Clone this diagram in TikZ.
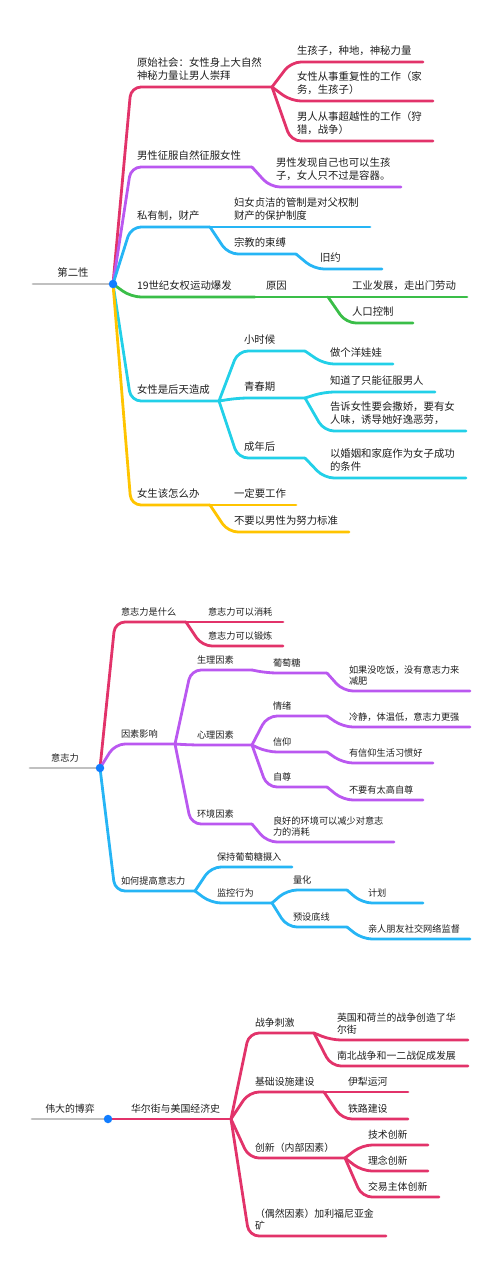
\documentclass[tikz,border=0pt]{standalone}
\usepackage{fontspec}
\setmainfont{Noto Sans CJK SC}
\usepackage{tikz}

\definecolor{cR}{RGB}{226,51,106}
\definecolor{cP}{RGB}{186,88,240}
\definecolor{cB}{RGB}{38,181,245}
\definecolor{cG}{RGB}{58,190,72}
\definecolor{cC}{RGB}{34,208,232}
\definecolor{cY}{RGB}{255,196,0}
\definecolor{cGray}{RGB}{192,192,192}
\definecolor{cDot}{RGB}{18,125,255}
\definecolor{cTxt}{RGB}{30,30,30}

\newcommand\mapA{\fontsize{10.4}{13}\selectfont}
\newcommand\mapB{\fontsize{9.2}{11}\selectfont}
\newcommand\mapC{\fontsize{9.9}{12}\selectfont}

\begin{document}
\begin{tikzpicture}[
  x=1pt, y=-1pt,
  tp/.style={anchor=south west, inner xsep=6pt, inner ysep=3.4pt,
    outer sep=0pt, align=left, text width=#1, text=cTxt,
    execute at end node=\strut},
  rt/.style={anchor=south, inner xsep=0pt, inner ysep=3.4pt,
    outer sep=0pt, minimum width=#1, text=cTxt,
    execute at end node=\strut},
  br/.style={draw=#1, line width=2.8pt, rounded corners=10pt,
    line cap=round, line join=round},
  dot/.style={circle, fill=cDot, inner sep=0pt, minimum size=8.5pt}
]
  \useasboundingbox (0,0) rectangle (500,1269);

  \begin{scope}[font=\mapA]
  \node[rt=80pt] (r1) at (73,284) {第二性};
  \node[tp=129] (a1) at (131,87) {原始社会：女性身上大自然\\神秘力量让男人崇拜};
  \node[tp=120] (a11) at (291,62) {生孩子，种地，神秘力量};
  \node[tp=130] (a12) at (291,101) {女性从事重复性的工作（家\\务，生孩子）};
  \node[tp=130] (a13) at (291,141) {男人从事超越性的工作（狩\\猎，战争）};
  \node[tp=109] (b1) at (131,167) {男性征服自然征服女性};
  \node[tp=119] (b11) at (270,187) {男性发现自己也可以生孩\\子，女人只不过是容器。};
  \node[tp=67] (c1) at (131,227) {私有制，财产};
  \node[tp=130] (c11) at (228,227) {妇女贞洁的管制是对父权制\\财产的保护制度};
  \node[tp=56] (c12) at (228,254) {宗教的束缚};
  \node[tp=56] (c121) at (314,269) {旧约};
  \node[tp=112] (d1) at (131,297) {19世纪女权运动爆发};
  \node[tp=56] (d11) at (260,297) {原因};
  \node[tp=109] (d111) at (346,297) {工业发展，走出门劳动};
  \node[tp=55] (d112) at (346,323) {人口控制};
  \node[tp=76] (e1) at (131,401) {女性是后天造成};
  \node[tp=55] (e11) at (238,351) {小时候};
  \node[tp=57] (e111) at (324,364) {做个洋娃娃};
  \node[tp=55] (e12) at (238,398) {青春期};
  \node[tp=99] (e121) at (324,392) {知道了只能征服男人};
  \node[tp=130] (e122) at (324,431) {告诉女性要会撒娇，要有女\\人味，诱导她好逸恶劳，};
  \node[tp=55] (e13) at (238,458) {成年后};
  \node[tp=130] (e131) at (324,478) {以婚姻和家庭作为女子成功\\的条件};
  \node[tp=67] (f1) at (131,505) {女生该怎么办};
  \node[tp=56] (f11) at (228,505) {一定要工作};
  \node[tp=109] (f12) at (228,532) {不要以男性为努力标准};
  \end{scope}

  \draw[br=cGray] (r1.south west) -- (r1.south east);
  \draw[br=cR] (r1.south east) -- (a1.south west) -- (a1.south east);
  \draw[br=cR] (a1.south east) -- (a11.south west) -- (a11.south east);
  \draw[br=cR] (a1.south east) -- (a12.south west) -- (a12.south east);
  \draw[br=cR] (a1.south east) -- (a13.south west) -- (a13.south east);
  \draw[br=cP] (r1.south east) -- (b1.south west) -- (b1.south east);
  \draw[br=cP] (b1.south east) -- (b11.south west) -- (b11.south east);
  \draw[br=cB] (r1.south east) -- (c1.south west) -- (c1.south east);
  \draw[br=cB] (c1.south east) -- (c11.south west) -- (c11.south east);
  \draw[br=cB] (c1.south east) -- (c12.south west) -- (c12.south east);
  \draw[br=cB] (c12.south east) -- (c121.south west) -- (c121.south east);
  \draw[br=cG] (r1.south east) -- (d1.south west) -- (d1.south east);
  \draw[br=cG] (d1.south east) -- (d11.south west) -- (d11.south east);
  \draw[br=cG] (d11.south east) -- (d111.south west) -- (d111.south east);
  \draw[br=cG] (d11.south east) -- (d112.south west) -- (d112.south east);
  \draw[br=cC] (r1.south east) -- (e1.south west) -- (e1.south east);
  \draw[br=cC] (e1.south east) -- (e11.south west) -- (e11.south east);
  \draw[br=cC] (e11.south east) -- (e111.south west) -- (e111.south east);
  \draw[br=cC] (e1.south east) -- (e12.south west) -- (e12.south east);
  \draw[br=cC] (e12.south east) -- (e121.south west) -- (e121.south east);
  \draw[br=cC] (e12.south east) -- (e122.south west) -- (e122.south east);
  \draw[br=cC] (e1.south east) -- (e13.south west) -- (e13.south east);
  \draw[br=cC] (e13.south east) -- (e131.south west) -- (e131.south east);
  \draw[br=cY] (r1.south east) -- (f1.south west) -- (f1.south east);
  \draw[br=cY] (f1.south east) -- (f11.south west) -- (f11.south east);
  \draw[br=cY] (f1.south east) -- (f12.south west) -- (f12.south east);
  \node[dot] (o1) at (r1.south east) {};

  \begin{scope}[font=\mapB]
  \node[rt=70pt] (r2) at (65,768) {意志力};
  \node[tp=59] (g1) at (115,622) {意志力是什么};
  \node[tp=69] (g11) at (202,622) {意志力可以消耗};
  \node[tp=69] (g12) at (202,646) {意志力可以锻炼};
  \node[tp=48] (h1) at (115,744) {因素影响};
  \node[tp=49] (h11) at (191,670) {生理因素};
  \node[tp=48] (h111) at (267,673) {葡萄糖};
  \node[tp=115] (h1111) at (343,691) {如果没吃饭，没有意志力来\\减肥};
  \node[tp=49] (h12) at (191,745) {心理因素};
  \node[tp=48] (h121) at (267,716) {情绪};
  \node[tp=115] (h1211) at (343,727) {冷静，体温低，意志力更强};
  \node[tp=48] (h122) at (267,752) {信仰};
  \node[tp=78] (h1221) at (343,763) {有信仰生活习惯好};
  \node[tp=48] (h123) at (267,787) {自尊};
  \node[tp=68] (h1231) at (343,800) {不要有太高自尊};
  \node[tp=49] (h13) at (191,824) {环境因素};
  \node[tp=115] (h131) at (267,842) {良好的环境可以减少对意志\\力的消耗};
  \node[tp=68] (i1) at (115,891) {如何提高意志力};
  \node[tp=69] (i11) at (211,867) {保持葡萄糖摄入};
  \node[tp=49] (i12) at (211,903) {监控行为};
  \node[tp=48] (i121) at (287,890) {量化};
  \node[tp=49] (i1211) at (362,903) {计划};
  \node[tp=48] (i122) at (287,927) {预设底线};
  \node[tp=96] (i1221) at (362,939) {亲人朋友社交网络监督};
  \end{scope}

  \draw[br=cGray] (r2.south west) -- (r2.south east);
  \draw[br=cR] (r2.south east) -- (g1.south west) -- (g1.south east);
  \draw[br=cR] (g1.south east) -- (g11.south west) -- (g11.south east);
  \draw[br=cR] (g1.south east) -- (g12.south west) -- (g12.south east);
  \draw[br=cP] (r2.south east) -- (h1.south west) -- (h1.south east);
  \draw[br=cP] (h1.south east) -- (h11.south west) -- (h11.south east);
  \draw[br=cP] (h11.south east) -- (h111.south west) -- (h111.south east);
  \draw[br=cP] (h111.south east) -- (h1111.south west) -- (h1111.south east);
  \draw[br=cP] (h1.south east) -- (h12.south west) -- (h12.south east);
  \draw[br=cP] (h12.south east) -- (h121.south west) -- (h121.south east);
  \draw[br=cP] (h121.south east) -- (h1211.south west) -- (h1211.south east);
  \draw[br=cP] (h12.south east) -- (h122.south west) -- (h122.south east);
  \draw[br=cP] (h122.south east) -- (h1221.south west) -- (h1221.south east);
  \draw[br=cP] (h12.south east) -- (h123.south west) -- (h123.south east);
  \draw[br=cP] (h123.south east) -- (h1231.south west) -- (h1231.south east);
  \draw[br=cP] (h1.south east) -- (h13.south west) -- (h13.south east);
  \draw[br=cP] (h13.south east) -- (h131.south west) -- (h131.south east);
  \draw[br=cB] (r2.south east) -- (i1.south west) -- (i1.south east);
  \draw[br=cB] (i1.south east) -- (i11.south west) -- (i11.south east);
  \draw[br=cB] (i1.south east) -- (i12.south west) -- (i12.south east);
  \draw[br=cB] (i12.south east) -- (i121.south west) -- (i121.south east);
  \draw[br=cB] (i121.south east) -- (i1211.south west) -- (i1211.south east);
  \draw[br=cB] (i12.south east) -- (i122.south west) -- (i122.south east);
  \draw[br=cB] (i122.south east) -- (i1221.south west) -- (i1221.south east);
  \node[dot] (o2) at (r2.south east) {};

  \begin{scope}[font=\mapC]
  \node[rt=76pt] (r3) at (70,1119) {伟大的博弈};
  \node[tp=94] (j1) at (125,1119) {华尔街与美国经济史};
  \node[tp=53] (j11) at (249,1033) {战争刺激};
  \node[tp=125] (j111) at (331,1040) {英国和荷兰的战争创造了华\\尔街};
  \node[tp=125] (j112) at (331,1066) {南北战争和一二战促成发展};
  \node[tp=63] (j12) at (249,1092) {基础设施建设};
  \node[tp=54] (j121) at (342,1092) {伊犁运河};
  \node[tp=54] (j122) at (342,1119) {铁路建设};
  \node[tp=84] (j13) at (249,1158) {创新（内部因素）};
  \node[tp=54] (j131) at (362,1145) {技术创新};
  \node[tp=54] (j132) at (362,1171) {理念创新};
  \node[tp=65] (j133) at (362,1197) {交易主体创新};
  \node[tp=125] (j14) at (249,1236) {（偶然因素）加利福尼亚金\\矿};
  \end{scope}

  \draw[br=cGray] (r3.south west) -- (r3.south east);
  \draw[br=cR] (r3.south east) -- (j1.south west) -- (j1.south east);
  \draw[br=cR] (j1.south east) -- (j11.south west) -- (j11.south east);
  \draw[br=cR] (j11.south east) -- (j111.south west) -- (j111.south east);
  \draw[br=cR] (j11.south east) -- (j112.south west) -- (j112.south east);
  \draw[br=cR] (j1.south east) -- (j12.south west) -- (j12.south east);
  \draw[br=cR] (j12.south east) -- (j121.south west) -- (j121.south east);
  \draw[br=cR] (j12.south east) -- (j122.south west) -- (j122.south east);
  \draw[br=cR] (j1.south east) -- (j13.south west) -- (j13.south east);
  \draw[br=cR] (j13.south east) -- (j131.south west) -- (j131.south east);
  \draw[br=cR] (j13.south east) -- (j132.south west) -- (j132.south east);
  \draw[br=cR] (j13.south east) -- (j133.south west) -- (j133.south east);
  \draw[br=cR] (j1.south east) -- (j14.south west) -- (j14.south east);
  \node[dot] (o3) at (r3.south east) {};
\end{tikzpicture}
\end{document}
